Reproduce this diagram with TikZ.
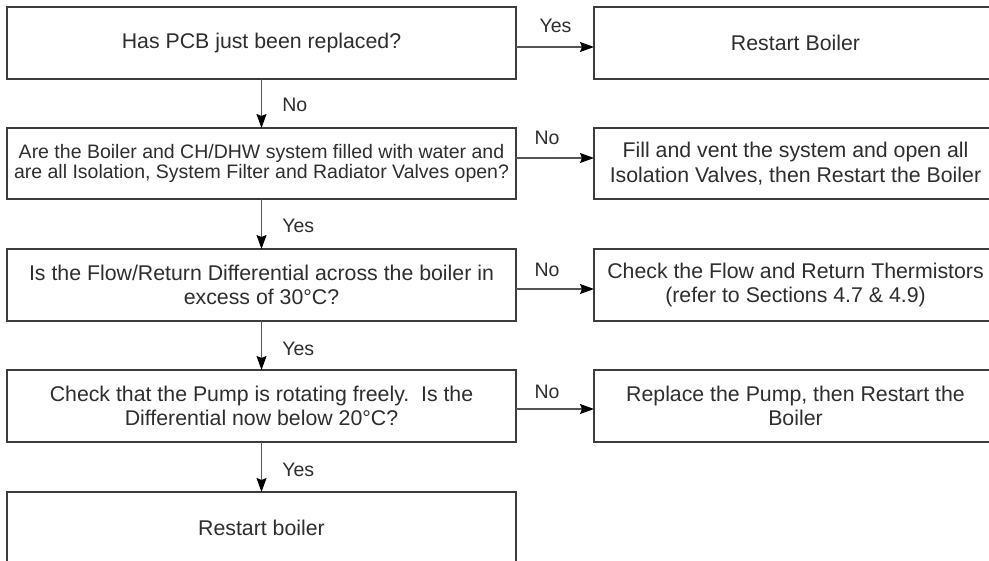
\documentclass[tikz,border=0pt]{standalone}
\usepackage{fontspec}
\setmainfont{Liberation Sans}
\usetikzlibrary{arrows.meta}
\definecolor{txt}{HTML}{2E2E2E}
\definecolor{edge}{HTML}{3C3C3C}
\definecolor{arrowc}{HTML}{555555}
\begin{document}
\begin{tikzpicture}[x=0.5pt,y=-0.5pt,
  box/.style={draw=edge, line width=0.8pt, inner sep=0pt, outer sep=0pt, text=txt, align=center, font=\fontsize{10.65}{12.3}\selectfont},
  lbox/.style={box, minimum width=254.5pt, minimum height=36pt},
  rbox/.style={box, minimum width=201.5pt, minimum height=36pt},
  flow/.style={draw=arrowc, line width=0.6pt, -{Stealth[length=7pt,width=5pt,inset=1pt,black]}},
  lab/.style={text=txt, font=\fontsize{9.75}{11}\selectfont, inner sep=0pt}
]
\useasboundingbox (0,0) rectangle (989,561);
\clip (0,0) rectangle (989,561);
\fill[white] (0,0) rectangle (989,561);

\node[lbox] (q1) at (261.5,43) {Has PCB just been replaced?};
\node[rbox] (a1) at (795.5,43) {Restart Boiler};
\node[lbox, minimum height=35.5pt, font=\fontsize{9.75}{9.9}\selectfont] (q2) at (261.5,163.5) {Are the Boiler and CH/DHW system filled with water and\\are all Isolation, System Filter and Radiator Valves open?};
\node[rbox, minimum height=35.5pt] (a2) at (795.5,163.5) {Fill and vent the system and open all\\Isolation Valves, then Restart the Boiler};
\node[lbox] (q3) at (261.5,285) {Is the Flow/Return Differential across the boiler in\\excess of 30°C?};
\node[rbox] (a3) at (795.5,285) {Check the Flow and Return Thermistors\\(refer to Sections 4.7 \& 4.9)};
\node[lbox] (q4) at (261.5,406) {Check that the Pump is rotating freely.\ \ Is the\\Differential now below 20°C?};
\node[rbox] (a4) at (795.5,406) {Replace the Pump, then Restart the\\Boiler};
\node[lbox] (q5) at (261.5,528) {Restart boiler};

\draw[flow] ([yshift=-2pt]q1.east) -- ([yshift=-2pt]a1.west);
\draw[flow] ([yshift=2.75pt]q2.east) -- ([yshift=2.75pt]a2.west);
\draw[flow] ([yshift=-2pt]q3.east) -- ([yshift=-2pt]a3.west);
\draw[flow] ([yshift=-1.5pt]q4.east) -- ([yshift=-1.5pt]a4.west);

\node[lab, anchor=base] (l1) at (555.5,33) {Yes};
\node[lab, anchor=base] (l2) at (547,145) {No};
\node[lab, anchor=base] (l3) at (547,276) {No};
\node[lab, anchor=base] (l4) at (547,398) {No};

\draw[flow] (q1.south) -- (q2.north);
\draw[flow] (q2.south) -- (q3.north);
\draw[flow] (q3.south) -- (q4.north);
\draw[flow] (q4.south) -- (q5.north);

\node[lab, anchor=base west] (v1) at (282,112) {No};
\node[lab, anchor=base west] (v2) at (282,233) {Yes};
\node[lab, anchor=base west] (v3) at (282,355) {Yes};
\node[lab, anchor=base west] (v4) at (282,476) {Yes};
\end{tikzpicture}
\end{document}
